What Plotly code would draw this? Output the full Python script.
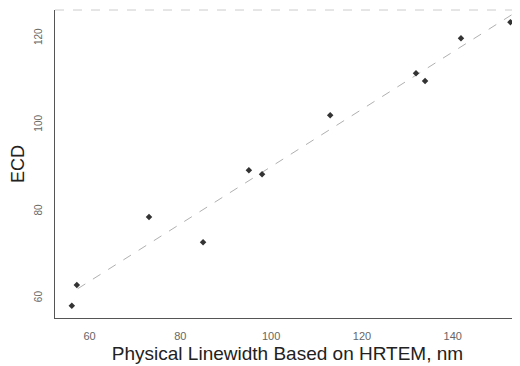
import numpy as np
import plotly.graph_objects as go

hrtem = [56.1, 57.2, 73.1, 85.0, 95.1, 98.0, 113.0, 131.9, 133.9, 141.8, 152.7]
ecd = [58.2, 63.0, 78.7, 72.9, 89.5, 88.6, 102.2, 111.9, 110.1, 120.0, 123.7]
x_ticks = [60, 80, 100, 120, 140]
y_ticks = [60, 80, 100, 120]

slope, intercept = np.polyfit(hrtem, ecd, 1)
fx = [min(hrtem) + 1.3, max(hrtem) + 2]
fy = [slope * v + intercept for v in fx]

fig = go.Figure()
fig.add_trace(go.Scatter(x=fx, y=fy, mode="lines",
                         line=dict(color="#b0b0b0", width=1, dash="dash"),
                         hoverinfo="skip"))
fig.add_trace(go.Scatter(x=hrtem, y=ecd, mode="markers", cliponaxis=False,
                         marker=dict(color="#333333", size=5, symbol="diamond")))

font = "Liberation Sans, Arial, sans-serif"
# page body has an 8px default margin, so the figure is offset by 8px
fig.update_layout(
    width=512, height=358,
    margin=dict(l=47, r=0, t=2, b=48),
    paper_bgcolor="white", plot_bgcolor="white",
    showlegend=False,
    font=dict(family=font, color="#333333"),
    xaxis=dict(range=[52.4, 154.8], tickvals=x_ticks, showgrid=False, zeroline=False,
               automargin=False,
               showline=True, linecolor="#555555", linewidth=1,
               ticks="", ticklabelstandoff=8, tickfont=dict(size=11, color="#666666"),
               title=dict(text="Physical Linewidth Based on HRTEM, nm",
                          font=dict(size=19, color="#222222"), standoff=5)),
    yaxis=dict(range=[55.4, 126.5], tickvals=y_ticks, showgrid=False, zeroline=False,
               automargin=False,
               showline=True, linecolor="#555555", linewidth=1,
               ticks="", ticklabelstandoff=8,
               tickangle=-90, tickfont=dict(size=10, color="#666666"),
               title=dict(text="ECD", font=dict(size=18, color="#222222"), standoff=4)),
)
fig.add_shape(type="line", xref="paper", yref="paper", x0=0, x1=1, y0=1, y1=1,
              line=dict(color="#cccccc", width=1, dash="dash"))
fig.write_html("out.html")
